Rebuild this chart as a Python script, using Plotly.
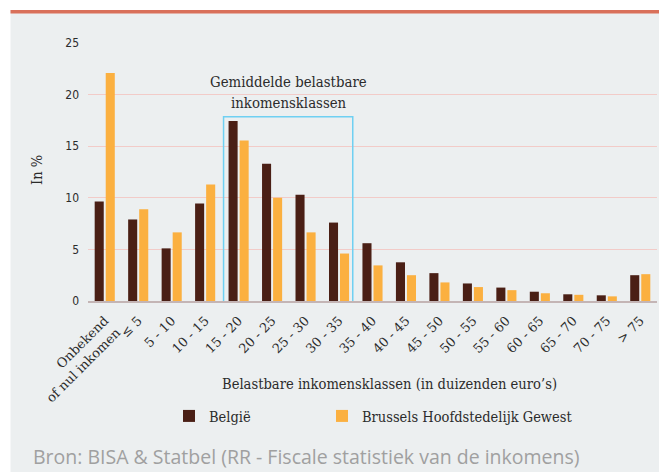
import plotly.graph_objects as go

categories = ["Onbekend<br>of nul inkomen", "≤ 5", "5 - 10", "10 - 15", "15 - 20", "20 - 25",
              "25 - 30", "30 - 35", "35 - 40", "40 - 45", "45 - 50", "50 - 55", "55 - 60",
              "60 - 65", "65 - 70", "70 - 75", "> 75"]
belgie = [9.65, 7.9, 5.1, 9.45, 17.45, 13.3, 10.3, 7.6, 5.6, 3.75, 2.7, 1.7, 1.3, 0.9, 0.65, 0.55, 2.5]
brussel = [22.1, 8.9, 6.65, 11.3, 15.55, 10.0, 6.65, 4.6, 3.45, 2.5, 1.8, 1.35, 1.05, 0.75, 0.6, 0.45, 2.6]
y_ticks = [0, 5, 10, 15, 20, 25]

series_names = ["België", "Brussels Hoofdstedelijk Gewest"]
highlight_title = ["Gemiddelde belastbare", "inkomensklassen"]
DARK = "#4A1F15"
ORANGE = "#FBB040"
BG = "#ECEFF0"
TXT = "#2B2B2B"
SERIF = "DejaVu Serif Condensed, DejaVu Serif, serif"

fig = go.Figure()
fig.add_trace(go.Bar(x=categories, y=belgie, name=series_names[0], marker_color=DARK,
                     marker_line_width=0, legend="legend"))
fig.add_trace(go.Bar(x=categories, y=brussel, name=series_names[1], marker_color=ORANGE,
                     marker_line_width=0, legend="legend2"))

OFF = 8  # page body margin
W, H = 667 - OFF, 472 - OFF
# plot area in page px: x 88..657, y 43..301
L, R, T, B = 88 - OFF, 667 - 657, 43 - OFF, 472 - 301
pw, ph = W - L - R, H - T - B


def px_x(x):  # page px -> paper
    return (x - OFF - L) / pw


def px_y(y):
    return (H - B - (y - OFF)) / ph


shapes = [
    dict(type="rect", xref="paper", yref="paper", x0=px_x(0), x1=px_x(W + 20), y0=px_y(10), y1=px_y(0),
         fillcolor="white", line_width=0, layer="below"),
    dict(type="rect", xref="paper", yref="paper", x0=px_x(0), x1=px_x(10.5), y0=px_y(H + 20), y1=px_y(0),
         fillcolor="white", line_width=0, layer="below"),
    dict(type="rect", xref="paper", yref="paper", x0=px_x(10.5), x1=px_x(W + 20), y0=px_y(13.5), y1=px_y(10),
         fillcolor="#D9705A", line_width=0, layer="below"),
    dict(type="rect", xref="x", yref="y", x0=4 - 0.45, x1=7 + 0.41, y0=-0.45, y1=17.85,
         line=dict(color="#6FD0F2", width=1.5), fillcolor="rgba(0,0,0,0)", layer="above"),
]

annotations = [
    dict(text=highlight_title[0], xref="x", yref="paper", x=5.5, y=px_y(81),
         xanchor="center", yanchor="middle", showarrow=False,
         font=dict(family=SERIF, size=14.8, color=TXT)),
    dict(text=highlight_title[1], xref="x", yref="paper", x=5.5, y=px_y(102),
         xanchor="center", yanchor="middle", showarrow=False,
         font=dict(family=SERIF, size=14.8, color=TXT)),
    dict(text="Belastbare inkomensklassen (in duizenden euro’s)", xref="paper", yref="paper",
         x=px_x(390), y=px_y(383), xanchor="center", yanchor="middle", showarrow=False,
         font=dict(family=SERIF, size=14.6, color=TXT)),
    dict(text="In %", xref="paper", yref="paper", x=px_x(37), y=px_y(170), textangle=-90,
         xanchor="center", yanchor="middle", showarrow=False,
         font=dict(family=SERIF, size=14.5, color=TXT)),
    dict(text="Bron: BISA & Statbel (RR - Fiscale statistiek van de inkomens)", xref="paper", yref="paper",
         x=px_x(31), y=px_y(456), xanchor="left", yanchor="middle", showarrow=False,
         font=dict(family="Open Sans, sans-serif", size=19.5, color="#A0A0A0")),
]

legend_font = dict(family=SERIF, size=14.5, color=TXT)
fig.update_layout(
    width=W, height=H,
    margin=dict(l=L, r=R, t=T, b=B, pad=0),
    paper_bgcolor=BG, plot_bgcolor=BG,
    barmode="group", bargap=0.34, bargroupgap=0.18,
    shapes=shapes, annotations=annotations,
    showlegend=True,
    legend=dict(orientation="h", x=px_x(169), y=px_y(416), xanchor="left", yanchor="middle",
                bgcolor="rgba(0,0,0,0)", font=legend_font),
    legend2=dict(orientation="h", x=px_x(322), y=px_y(416), xanchor="left", yanchor="middle",
                 bgcolor="rgba(0,0,0,0)", font=legend_font),
    xaxis=dict(type="category", tickangle=-45, showgrid=False, ticks="",
               showline=True, linecolor="#C4B5B5", linewidth=2, ticklabelstandoff=5,
               tickfont=dict(family="DejaVu Serif, serif", size=13, color=TXT), range=[-0.5, 16.5]),
    yaxis=dict(range=[0, 25], tickvals=y_ticks, showgrid=True, gridcolor="#F2CBC8", gridwidth=1,
               zeroline=False, showline=False, ticks="", ticklabelstandoff=8,
               tickfont=dict(family="Liberation Sans Narrow, DejaVu Sans Condensed, sans-serif",
                             size=12, color=TXT)),
)

fig.write_html("out.html")
